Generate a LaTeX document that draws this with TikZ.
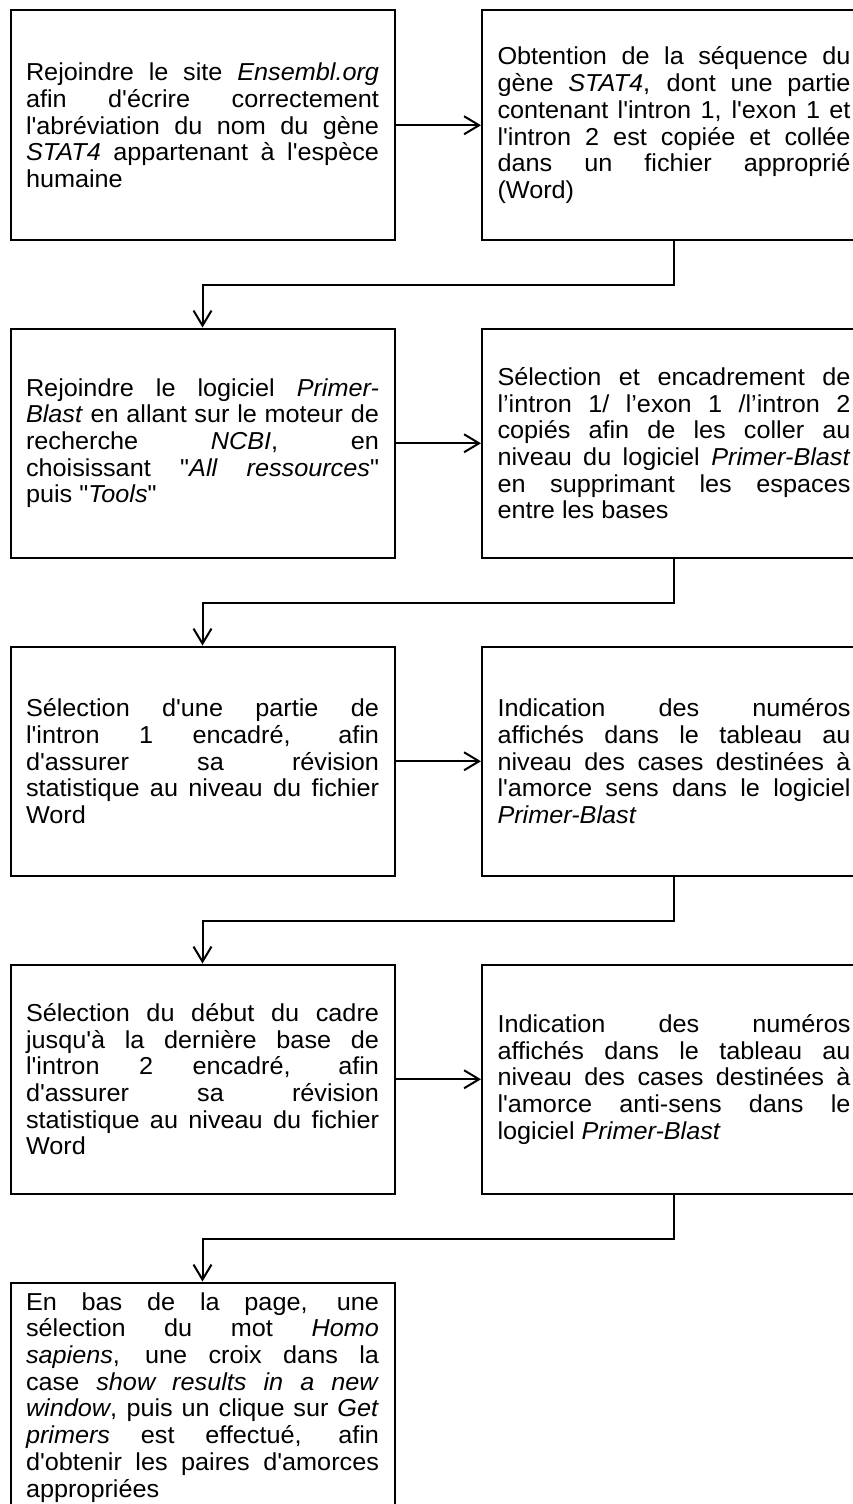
\documentclass[tikz,border=0pt]{standalone}
\usepackage{fontspec}
\setmainfont{Liberation Sans}[FakeStretch=1.03,Ligatures=TeXOff]
\usetikzlibrary{arrows.meta,calc}
\tolerance=10000
\hbadness=10000
\hfuzz=20pt
\hyphenpenalty=10000
\exhyphenpenalty=10000
\tikzset{
  box/.style={draw, line width=2pt, minimum width=384pt, minimum height=229.5pt,
    text width=353pt, inner xsep=15.5pt, inner ysep=0pt, align=justify,
    anchor=north west, font=\fontsize{24.5}{26.7}\selectfont},
  conn/.style={line width=2pt, -{Straight Barb[length=15pt,width=18pt,line width=2pt]}},
}
\begin{document}
\begin{tikzpicture}[x=1pt,y=-1pt]
\clip (0,0) rectangle (853,1504);
\fill[white] (0,0) rectangle (853,1504);
\node[box] (A) at (9.5,9.5) {Rejoindre le site \textit{Ensembl.org}\linebreak
afin d'écrire correctement\linebreak
l'abréviation du nom du gène\linebreak
\textit{STAT4} appartenant à l'espèce\linebreak
humaine};
\node[box] (B) at (481,9.5) {Obtention de la séquence du\linebreak
gène \textit{STAT4}, dont une partie\linebreak
contenant l'intron 1, l'exon 1 et\linebreak
l'intron 2 est copiée et collée\linebreak
dans un fichier approprié\linebreak
(Word)};
\node[box] (C) at (9.5,327.5) {Rejoindre le logiciel \textit{Primer-}\linebreak
\textit{Blast} en allant sur le moteur de\linebreak
recherche \textit{NCBI}, en\linebreak
choisissant "\textit{All ressources}"\linebreak
puis "\textit{Tools}"};
\node[box] (D) at (481,327.5) {Sélection et encadrement de\linebreak
l’intron 1/ l’exon 1 /l’intron 2\linebreak
copiés afin de les coller au\linebreak
niveau du logiciel \textit{Primer-Blast}\linebreak
en supprimant les espaces\linebreak
entre les bases};
\node[box] (E) at (9.5,645.5) {Sélection d'une partie de\linebreak
l'intron 1 encadré, afin\linebreak
d'assurer sa révision\linebreak
statistique au niveau du fichier\linebreak
Word};
\node[box] (F) at (481,645.5) {Indication des numéros\linebreak
affichés dans le tableau au\linebreak
niveau des cases destinées à\linebreak
l'amorce sens dans le logiciel\linebreak
\textit{Primer-Blast}};
\node[box] (G) at (9.5,963.5) {Sélection du début du cadre\linebreak
jusqu'à la dernière base de\linebreak
l'intron 2 encadré, afin\linebreak
d'assurer sa révision\linebreak
statistique au niveau du fichier\linebreak
Word};
\node[box] (H) at (481,963.5) {Indication des numéros\linebreak
affichés dans le tableau au\linebreak
niveau des cases destinées à\linebreak
l'amorce anti-sens dans le\linebreak
logiciel \textit{Primer-Blast}};
\node[box] (I) at (9.5,1281.5) {En bas de la page, une\linebreak
sélection du mot \textit{Homo}\linebreak
\textit{sapiens}, une croix dans la\linebreak
case \textit{show results in a new}\linebreak
\textit{window}, puis un clique sur \textit{Get}\linebreak
\textit{primers} est effectué, afin\linebreak
d'obtenir les paires d'amorces\linebreak
appropriées};
\draw[conn] (A.east) -- (B.west);
\draw[conn] (C.east) -- (D.west);
\draw[conn] (E.east) -- (F.west);
\draw[conn] (G.east) -- (H.west);
\draw[conn] (B.south) -- ++(0,44.25) -| (C.north);
\draw[conn] (D.south) -- ++(0,44.25) -| (E.north);
\draw[conn] (F.south) -- ++(0,44.25) -| (G.north);
\draw[conn] (H.south) -- ++(0,44.25) -| (I.north);
\end{tikzpicture}
\end{document}
